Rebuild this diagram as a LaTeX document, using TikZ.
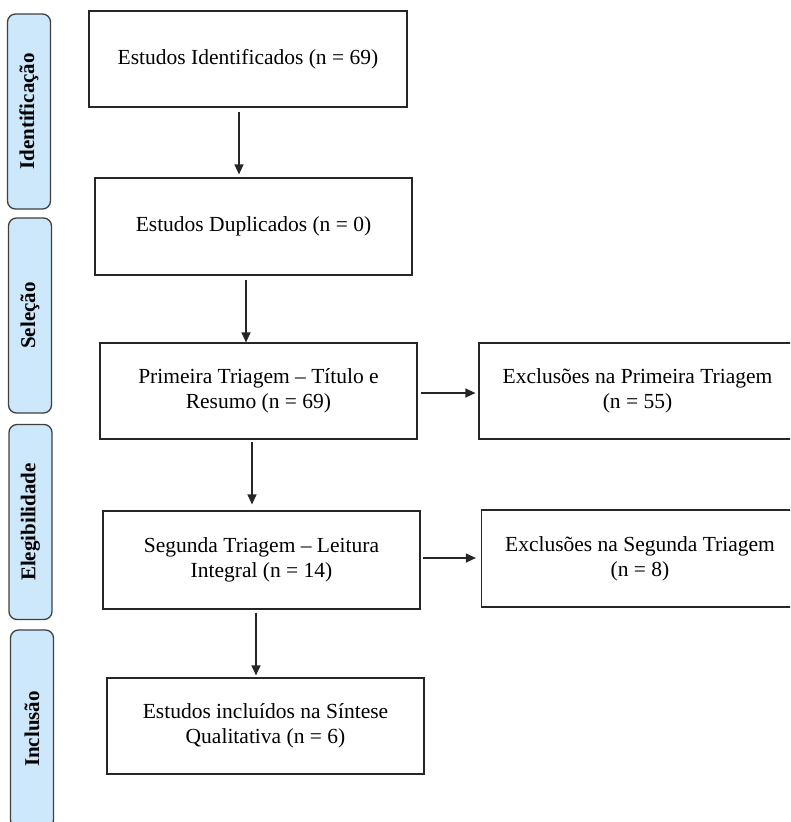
\documentclass[tikz,border=0pt]{standalone}
\usepackage{fontspec}
\setmainfont{Liberation Serif}
\usetikzlibrary{arrows.meta}
\begin{document}
\begin{tikzpicture}[x=1pt,y=-1pt,
  flowbox/.style={draw=black!85, line width=1.2pt, fill=white, align=center,
    minimum width=317pt, minimum height=96pt, inner sep=0pt,
    font=\fontsize{21.5}{25}\selectfont},
  phase/.style={draw=black!75, line width=1.3pt, fill=phaseblue, rounded corners=8pt,
    minimum height=43pt, minimum width=195pt, inner sep=0pt, rotate=90,
    font=\fontsize{21}{24}\selectfont\bfseries},
  arr/.style={line width=1.2pt, draw=black!85, -{Triangle[length=10pt,width=9pt]}}]
\definecolor{phaseblue}{HTML}{CDE8FA}
\useasboundingbox (0,0) rectangle (790,822);
\clip (0,0) rectangle (790,822);
\fill[white] (0,0) rectangle (790,822);

% phase labels
\node[phase] (p1) at (29,111.5) {Identificação};
\node[phase] (p2) at (30,315.5) {Seleção};
\node[phase] (p3) at (30.5,522) {Elegibilidade};
\node[phase, minimum width=198pt] (p4) at (32,729) {Inclusão};

% main boxes
\node[flowbox, minimum width=318pt] (b1) at (248,59) {Estudos Identificados (n = 69)};
\node[flowbox, minimum height=97pt] (b2) at (253.5,226.5) {Estudos Duplicados (n = 0)};
\node[flowbox] (b3) at (258.5,391) {Primeira Triagem – Título e\\Resumo (n = 69)};
\node[flowbox, minimum height=98pt] (b4) at (261.5,560) {Segunda Triagem – Leitura\\Integral (n = 14)};
\node[flowbox] (b5) at (265.5,726) {Estudos incluídos na Síntese\\Qualitativa (n = 6)};

% exclusion boxes
\node[flowbox] (e1) at (637.5,391) {Exclusões na Primeira Triagem\\(n = 55)};
\node[flowbox, minimum height=97pt] (e2) at (640,558.5) {Exclusões na Segunda Triagem\\(n = 8)};

% arrow columns
\coordinate (c1) at (239,0);
\coordinate (c2) at (246,0);
\coordinate (c3) at (252,0);
\coordinate (c4) at (256,0);

\draw[arr, shorten <=4pt, shorten >=3pt] (b1.south -| c1) -- (b2.north -| c1);
\draw[arr, shorten <=4pt, shorten >=0pt] (b2.south -| c2) -- (b3.north -| c2);
\draw[arr, shorten <=2pt, shorten >=6pt] (b3.south -| c3) -- (b4.north -| c3);
\draw[arr, shorten <=3pt, shorten >=2pt] (b4.south -| c4) -- (b5.north -| c4);

\coordinate (r1) at (0,393);
\coordinate (r2) at (0,558);
\draw[arr, shorten <=3pt, shorten >=3pt] (b3.east |- r1) -- (e1.west |- r1);
\draw[arr, shorten <=2pt, shorten >=5pt] (b4.east |- r2) -- (e2.west |- r2);
\end{tikzpicture}
\end{document}
